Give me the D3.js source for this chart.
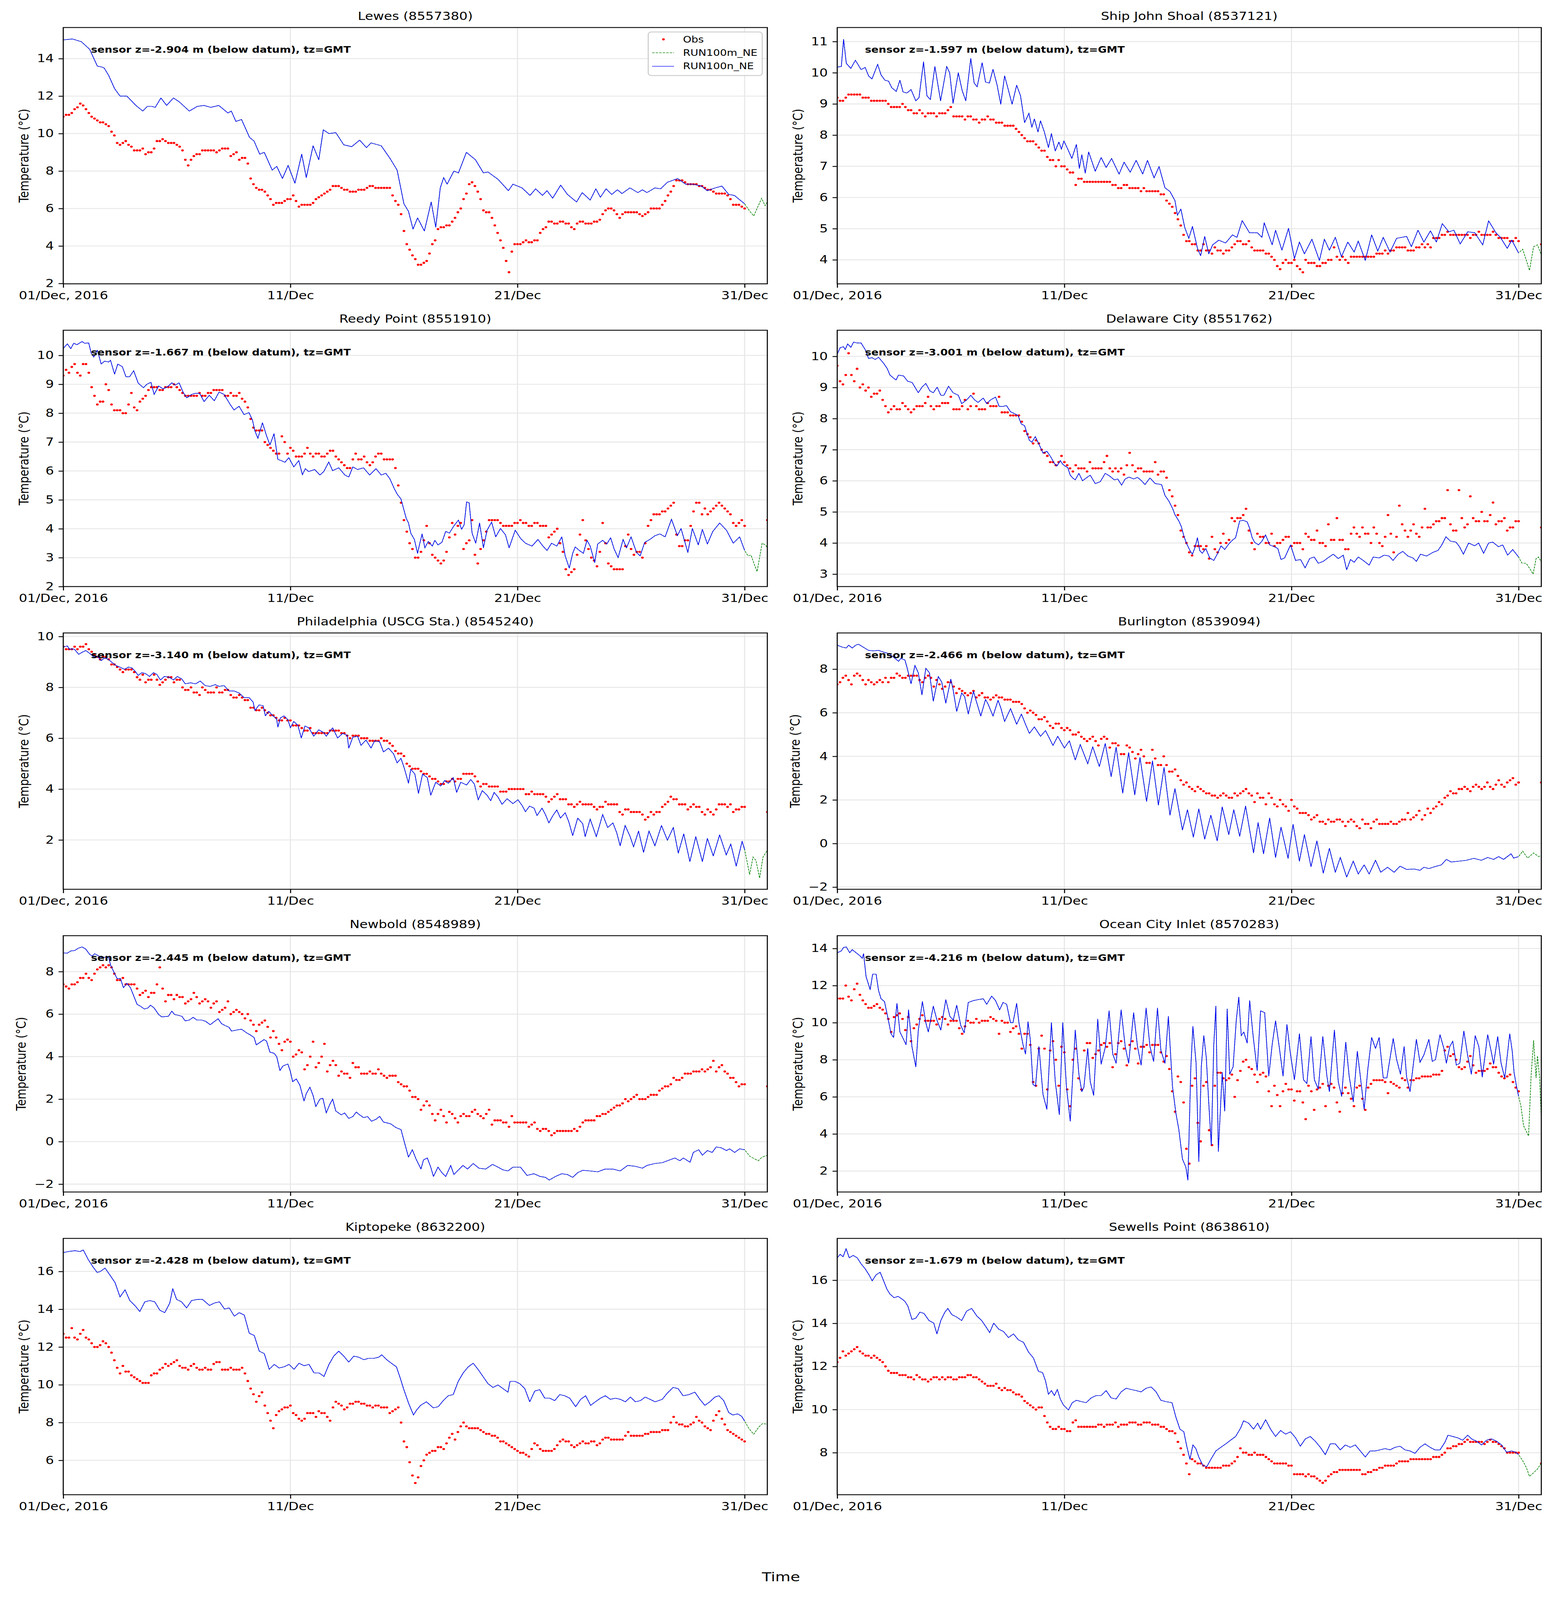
<!DOCTYPE html>
<html>
<head>
<meta charset="utf-8">
<script src="https://cdn.jsdelivr.net/npm/d3@7"></script>
<style>
  html, body { margin: 0; padding: 0; height: 100%; overflow: hidden; background: #fff; }
  #chart { display: block; width: 100vw; height: 100vh; }
  text { font-family: "DejaVu Sans", sans-serif; }
</style>
</head>
<body>
<svg id="chart" viewBox="0 0 4000 5000" preserveAspectRatio="none"></svg>
<script>
// Station titles and sensor depths
const stationNames = ['Lewes (8557380)', 'Ship John Shoal (8537121)', 'Reedy Point (8551910)', 'Delaware City (8551762)',
  'Philadelphia (USCG Sta.) (8545240)', 'Burlington (8539094)', 'Newbold (8548989)', 'Ocean City Inlet (8570283)',
  'Kiptopeke (8632200)', 'Sewells Point (8638610)'];
const sensorDepths = ['-2.904', '-1.597', '-1.667', '-3.001', '-3.140', '-2.466', '-2.445', '-4.216', '-2.428', '-1.679'];

// x ticks (days after 01/Dec 2016) and their labels
const tickDays = [0, 10, 20, 30];
const tickLabels = ['01/Dec, 2016', '11/Dec', '21/Dec', '31/Dec'];

// Observations: one value every 3 hours from 01/Dec 00:00 to 31/Dec 00:00
const obsLewes = [
  10.9,11.0,11.0,11.1,11.3,11.4,11.6,11.5, 11.3,11.1,10.9,10.8,10.7,10.6,10.6,10.5,
  10.4,10.1,9.9,9.5,9.4,9.5,9.6,9.4, 9.3,9.1,9.1,9.1,9.2,8.9,9.0,9.0,
  9.2,9.6,9.6,9.7,9.6,9.5,9.5,9.5, 9.4,9.3,9.1,8.6,8.3,8.6,8.8,8.9,
  8.9,9.1,9.1,9.1,9.1,9.1,9.0,9.1, 9.2,9.2,9.2,8.8,8.9,9.0,8.6,8.7,
  8.7,8.4,7.6,7.3,7.1,7.0,7.0,6.9, 6.7,6.5,6.2,6.3,6.3,6.3,6.4,6.5,
  6.5,6.7,6.4,6.1,6.2,6.2,6.2,6.2, 6.3,6.5,6.6,6.7,6.8,6.9,7.0,7.2,
  7.2,7.2,7.1,7.0,7.0,6.9,6.9,6.9, 7.0,7.0,7.0,7.1,7.2,7.2,7.1,7.1,
  7.1,7.1,7.1,7.1,6.7,6.4,6.2,5.7, 4.8,4.1,3.8,3.5,3.3,3.0,3.0,3.1,
  3.2,3.6,4.1,4.3,4.9,5.0,5.0,5.1, 5.1,5.3,5.5,5.8,6.0,6.5,6.8,7.3,
  7.4,7.2,6.9,6.5,5.9,5.8,5.8,5.5, 5.1,4.7,4.3,3.9,3.2,2.6,3.7,4.1,
  4.1,4.1,4.2,4.3,4.2,4.2,4.3,4.3, 4.7,4.9,5.0,5.3,5.3,5.2,5.2,5.3,
  5.3,5.2,5.2,5.0,4.9,5.2,5.3,5.3, 5.2,5.2,5.2,5.3,5.3,5.4,5.7,5.9,
  6.0,6.0,5.9,5.7,5.5,5.7,5.8,5.8, 5.8,5.8,5.8,5.7,5.6,5.7,5.8,6.0,
  6.0,6.0,6.0,6.2,6.4,6.7,6.9,7.2, 7.5,7.5,7.5,7.4,7.3,7.3,7.3,7.3,
  7.2,7.2,7.1,7.0,7.0,6.9,6.8,6.8, 6.8,6.8,6.7,6.5,6.2,6.2,6.2,6.1,
  6.0];
const obsShipJohn = [
  9.2,9.1,9.1,9.2,9.3,9.3,9.3,9.3, 9.3,9.2,9.2,9.2,9.1,9.1,9.1,9.1,
  9.1,9.1,9.0,8.9,8.9,8.9,8.9,9.0, 8.9,8.8,8.8,8.7,8.7,8.8,8.7,8.6,
  8.7,8.7,8.7,8.6,8.7,8.7,8.7,8.8, 8.9,8.6,8.6,8.6,8.6,8.5,8.6,8.6,
  8.5,8.5,8.4,8.5,8.5,8.6,8.5,8.5, 8.4,8.4,8.4,8.3,8.3,8.3,8.3,8.2,
  8.1,8.0,7.9,7.8,7.8,7.8,7.7,7.6, 7.5,7.5,7.3,7.2,7.2,7.0,7.2,7.0,
  7.0,6.9,6.8,6.8,6.4,6.6,6.6,6.5, 6.5,6.5,6.5,6.5,6.5,6.5,6.5,6.5,
  6.5,6.4,6.4,6.3,6.3,6.4,6.4,6.3, 6.3,6.3,6.3,6.2,6.3,6.2,6.2,6.2,
  6.2,6.2,6.1,6.1,5.9,5.8,5.7,5.5, 5.3,5.1,4.8,4.6,4.6,4.5,4.5,4.3,
  4.3,4.5,4.3,4.3,4.2,4.4,4.3,4.3, 4.2,4.3,4.3,4.4,4.5,4.6,4.6,4.5,
  4.5,4.6,4.4,4.3,4.3,4.3,4.3,4.2, 4.2,4.1,4.0,3.8,3.7,3.9,4.0,3.9,
  3.9,4.0,3.8,3.7,3.6,4.0,3.9,3.9, 3.9,3.8,3.8,3.9,3.9,4.0,4.0,4.4,
  4.1,4.0,4.1,4.0,3.9,4.1,4.1,4.1, 4.1,4.1,4.1,4.1,4.1,4.1,4.2,4.2,
  4.2,4.3,4.2,4.3,4.3,4.4,4.4,4.4, 4.4,4.3,4.3,4.3,4.4,4.4,4.5,4.4,
  4.5,4.4,4.7,4.7,4.7,4.8,4.8,4.9, 4.8,4.8,4.8,4.8,4.8,4.8,4.8,4.7,
  4.8,4.8,4.9,4.8,4.8,4.8,4.8,4.9, 4.8,4.7,4.7,4.7,4.7,4.6,4.6,4.7,
  4.6];
const obsReedy = [
  9.3,9.5,9.4,9.6,9.7,9.4,9.3,9.7, 9.7,9.4,8.9,8.6,8.3,8.4,8.4,9.0,
  8.8,8.3,8.1,8.1,8.1,8.0,8.0,8.3, 8.7,8.2,8.1,8.4,8.5,8.6,8.8,8.9,
  8.9,8.9,8.8,8.8,8.9,8.9,8.9,9.0, 8.9,8.8,8.7,8.6,8.6,8.6,8.6,8.6,
  8.7,8.6,8.6,8.7,8.7,8.8,8.8,8.8, 8.8,8.6,8.6,8.7,8.6,8.6,8.7,8.5,
  8.4,8.2,7.8,7.5,7.4,7.4,7.4,7.0, 6.9,6.8,6.7,6.6,6.6,7.2,7.0,6.6,
  6.8,6.7,6.5,6.5,6.5,6.6,6.8,6.6, 6.5,6.6,6.6,6.5,6.5,6.6,6.7,6.7,
  6.5,6.4,6.3,6.2,6.1,6.1,6.4,6.6, 6.4,6.4,6.5,6.3,6.2,6.3,6.5,6.6,
  6.6,6.4,6.4,6.4,6.4,6.1,5.5,4.9, 4.3,3.9,3.5,3.3,3.0,3.0,3.2,3.6,
  4.1,3.5,3.1,3.0,2.9,2.8,2.9,3.2, 3.7,4.2,3.8,4.1,4.2,3.3,3.5,3.6,
  4.3,3.1,2.8,3.3,3.6,3.9,4.3,4.3, 4.3,4.3,4.2,4.1,4.1,4.1,4.1,4.2,
  4.2,4.3,4.2,4.2,4.1,4.1,4.2,4.2, 4.1,4.1,4.1,3.7,3.8,3.9,4.0,3.5,
  3.2,2.6,2.4,2.5,2.6,3.1,3.8,4.3, 3.6,3.3,3.0,2.9,2.7,3.2,4.2,3.5,
  2.8,2.7,2.6,2.6,2.6,2.6,3.4,3.8, 3.3,3.1,3.2,3.2,3.0,3.5,4.1,4.3,
  4.5,4.5,4.5,4.6,4.6,4.7,4.8,4.9, 3.8,3.4,3.4,3.6,3.6,4.1,4.6,4.9,
  4.9,4.5,4.7,4.5,4.6,4.7,4.8,4.9, 4.8,4.7,4.6,4.5,4.2,4.1,4.2,4.3,
  4.1];
const obsDelaware = [
  9.7,9.2,9.1,9.4,10.1,9.4,9.2,9.6, 9.0,9.1,8.9,9.0,8.7,8.8,8.8,8.9,
  8.6,8.4,8.2,8.3,8.4,8.3,8.3,8.5, 8.4,8.3,8.2,8.3,8.4,8.4,8.4,8.5,
  8.7,8.4,8.3,8.4,8.4,8.5,8.5,8.5, 8.7,8.3,8.3,8.3,8.4,8.6,8.3,8.4,
  8.8,8.4,8.3,8.3,8.3,8.5,8.4,8.4, 8.4,8.7,8.2,8.2,8.2,8.1,8.1,8.1,
  8.1,7.9,7.6,7.5,7.4,7.2,7.3,7.2, 7.0,6.9,6.8,6.6,6.6,6.5,6.6,6.8,
  6.6,6.5,6.4,6.3,6.5,6.4,6.4,6.4, 6.3,6.6,6.4,6.4,6.4,6.4,6.6,6.8,
  6.4,6.3,6.4,6.3,6.4,6.2,6.5,6.9, 6.5,6.3,6.4,6.4,6.3,6.3,6.3,6.3,
  6.6,6.2,6.3,6.3,6.1,5.7,5.5,5.2, 4.9,4.4,4.2,4.0,3.7,3.6,3.9,3.9,
  3.9,3.8,3.9,3.5,4.2,3.8,3.7,4.0, 4.3,4.0,4.1,4.8,4.7,4.8,4.8,4.9,
  5.1,4.4,4.0,3.8,4.3,4.2,4.2,4.0, 4.0,4.3,3.9,4.0,4.0,4.1,4.2,4.2,
  3.9,4.0,4.0,4.0,3.8,4.3,4.2,4.1, 4.1,4.4,4.0,4.0,3.9,4.6,4.1,4.1,
  4.8,4.1,4.1,3.8,3.8,4.3,4.5,4.3, 4.2,4.5,4.3,4.3,4.0,4.5,4.3,4.0,
  3.9,4.2,4.9,4.3,3.7,4.2,5.2,4.6, 4.4,4.2,4.4,4.6,4.3,4.2,4.5,5.1,
  4.5,4.5,4.6,4.7,4.7,4.8,4.8,5.7, 4.6,4.4,4.4,5.7,4.8,4.5,4.6,5.5,
  4.8,4.7,4.7,5.0,4.7,4.7,4.9,5.3, 4.6,4.7,4.7,4.8,4.4,4.5,4.5,4.7,
  4.7];
const obsPhiladelphia = [
  9.6,9.5,9.5,9.5,9.6,9.5,9.6,9.6, 9.7,9.5,9.4,9.3,9.2,9.1,9.2,9.2,
  9.1,8.9,8.9,8.8,8.7,8.6,8.7,8.7, 8.7,8.6,8.4,8.3,8.5,8.2,8.3,8.3,
  8.5,8.3,8.1,8.2,8.3,8.4,8.4,8.2, 8.3,8.3,8.0,7.9,7.9,8.0,7.8,7.8,
  7.7,8.0,7.9,7.8,7.8,7.8,8.0,7.8, 7.8,7.9,7.9,7.7,7.6,7.6,7.7,7.6,
  7.5,7.5,7.2,7.2,7.1,7.1,7.2,7.1, 7.0,6.9,6.9,6.8,6.7,6.7,6.8,6.7,
  6.7,6.5,6.5,6.5,6.4,6.3,6.3,6.4, 6.2,6.2,6.2,6.2,6.2,6.2,6.3,6.3,
  6.3,6.3,6.2,6.2,6.1,6.0,6.1,6.1, 6.1,6.0,6.0,6.0,5.9,5.9,5.9,5.9,
  6.0,5.9,5.9,5.8,5.7,5.5,5.4,5.4, 5.3,5.0,4.9,4.8,4.8,4.8,4.7,4.6,
  4.6,4.5,4.4,4.4,4.3,4.2,4.2,4.3, 4.3,4.4,4.3,4.4,4.4,4.6,4.6,4.6,
  4.6,4.5,4.3,4.1,4.2,4.2,4.1,4.1, 4.1,4.1,3.9,3.9,3.9,4.0,4.0,4.0,
  4.0,4.0,4.0,3.8,3.8,3.9,3.8,3.8, 3.8,3.8,3.7,3.5,3.6,3.7,3.8,3.6,
  3.6,3.6,3.4,3.4,3.3,3.4,3.5,3.4, 3.4,3.4,3.4,3.3,3.2,3.3,3.3,3.5,
  3.4,3.4,3.4,3.4,3.1,3.0,3.2,3.2, 3.1,3.1,3.1,3.1,3.0,2.8,2.9,3.1,
  3.0,3.1,3.1,3.3,3.4,3.5,3.7,3.6, 3.6,3.4,3.4,3.4,3.2,3.3,3.4,3.3,
  3.3,3.1,3.0,3.2,3.1,3.0,3.2,3.4, 3.4,3.4,3.3,3.4,3.1,3.2,3.2,3.3,
  3.3];
const obsBurlington = [
  7.3,7.4,7.6,7.7,7.5,7.3,7.7,7.8, 7.7,7.5,7.3,7.5,7.4,7.3,7.4,7.5,
  7.4,7.6,7.4,7.6,7.6,7.8,7.7,7.6, 7.6,7.7,7.7,7.7,7.7,7.5,7.4,7.6,
  7.7,7.6,7.2,7.5,7.3,7.1,7.2,7.4, 7.4,7.2,6.9,7.1,7.0,6.9,6.8,6.9,
  7.0,6.7,6.8,6.9,6.7,6.7,6.6,6.7, 6.8,6.7,6.7,6.6,6.6,6.6,6.5,6.5,
  6.5,6.4,6.2,6.0,6.1,6.0,5.9,5.7, 5.7,5.8,5.6,5.4,5.3,5.5,5.5,5.3,
  5.2,5.3,5.2,5.0,5.0,5.1,4.9,4.8, 4.7,4.8,4.9,4.7,4.5,4.8,4.9,4.8,
  4.4,4.6,4.6,4.5,4.1,4.1,4.5,4.4, 4.2,3.9,4.1,4.3,4.0,3.7,3.7,4.3,
  3.9,3.6,3.6,4.0,3.6,3.3,3.3,3.4, 3.1,2.9,2.7,2.8,2.6,2.5,2.4,2.6,
  2.5,2.4,2.3,2.3,2.2,2.2,2.1,2.2, 2.3,2.2,2.1,2.1,2.3,2.2,2.3,2.4,
  2.5,2.3,2.2,1.9,2.3,2.1,2.1,1.8, 2.3,2.1,1.8,1.7,2.0,1.8,1.7,1.5,
  2.0,1.7,1.6,1.4,1.4,1.4,1.3,1.1, 1.2,1.3,1.0,1.0,0.9,1.1,1.0,1.0,
  1.1,1.1,1.0,0.8,1.0,1.1,1.0,0.8, 0.7,1.1,0.9,0.9,0.7,1.0,1.1,0.9,
  0.9,0.9,0.9,1.0,0.9,0.9,1.0,1.1, 1.1,1.4,1.1,1.2,1.3,1.5,1.1,1.3,
  1.6,1.4,1.6,1.7,1.9,1.8,2.1,2.2, 2.4,2.3,2.3,2.5,2.5,2.6,2.5,2.4,
  2.6,2.7,2.6,2.5,2.6,2.8,2.6,2.5, 2.7,2.9,2.7,2.6,2.8,2.9,3.0,2.7,
  2.8];
const obsNewbold = [
  7.4,7.3,7.2,7.4,7.4,7.5,7.7,7.7, 7.9,7.7,7.6,7.9,8.1,8.2,8.3,8.2,
  8.3,8.2,7.9,7.6,7.6,7.7,7.4,7.4, 7.4,7.4,7.2,6.9,7.0,7.1,6.8,7.0,
  7.0,7.4,8.2,7.2,6.6,6.9,6.9,6.7, 6.9,6.8,6.8,6.5,6.6,6.7,7.0,6.8,
  6.5,6.6,6.7,6.6,6.3,6.5,6.6,6.1, 6.2,6.3,6.6,6.0,6.1,6.2,6.1,6.0,
  5.8,6.0,5.7,5.5,5.2,5.5,5.6,5.7, 5.4,4.9,5.2,4.9,4.6,4.3,4.7,4.8,
  4.7,4.0,4.1,4.3,4.2,3.4,3.6,4.0, 4.7,3.5,3.7,4.0,4.6,3.3,3.6,3.8,
  3.6,3.1,3.3,3.2,3.2,3.0,3.7,3.5, 3.5,3.2,3.2,3.2,3.3,3.2,3.2,3.4,
  3.2,3.1,3.0,3.1,3.1,3.1,2.8,2.7, 2.6,2.6,2.4,2.1,2.1,2.0,1.5,1.7,
  1.9,1.7,1.3,1.0,1.3,1.5,1.2,0.9, 1.4,1.3,1.1,0.9,1.2,1.3,1.2,1.2,
  1.4,1.5,1.3,1.2,1.1,1.3,1.5,0.8, 1.0,1.0,1.0,0.9,0.9,0.7,1.2,0.9,
  0.9,0.9,0.9,0.9,0.7,0.8,0.9,0.6, 0.5,0.6,0.6,0.5,0.3,0.4,0.5,0.5,
  0.5,0.5,0.5,0.5,0.6,0.5,0.7,0.9, 1.0,1.0,1.0,1.0,1.2,1.2,1.3,1.3,
  1.4,1.5,1.6,1.7,1.7,1.8,2.0,1.9, 2.0,2.1,2.2,2.0,2.0,2.0,2.1,2.2,
  2.2,2.2,2.4,2.5,2.6,2.6,2.7,3.0, 2.9,2.9,3.0,3.2,3.2,3.2,3.3,3.3,
  3.3,3.4,3.3,3.4,3.5,3.8,3.3,3.5, 3.6,3.3,3.2,3.0,3.0,2.8,2.6,2.7,
  2.7];
const obsOceanCity = [
  11.3,11.3,11.3,12.0,11.4,11.2,11.8,12.1, 11.5,11.2,11.0,10.8,10.8,10.9,11.0,10.8,
  10.7,10.5,10.2,9.5,10.3,10.4,10.5,10.2, 9.6,10.3,9.0,9.7,9.9,10.2,10.4,10.1,
  10.1,10.1,10.1,9.9,10.2,10.3,10.2,9.9, 10.1,10.1,10.1,9.7,9.4,9.8,10.1,10.0,
  10.0,10.2,10.0,10.1,10.1,10.1,10.3,10.2, 10.1,9.4,10.1,10.0,10.0,9.5,9.7,9.8,
  9.4,8.6,9.4,9.4,8.8,6.8,6.6,8.6, 9.3,8.6,6.4,8.5,9.0,8.0,6.6,8.7,
  8.4,6.4,5.5,8.0,8.6,7.0,6.4,8.5, 8.9,8.9,8.1,8.3,8.5,8.8,8.9,8.7,
  8.9,7.6,8.3,8.9,9.0,8.6,7.7,8.8, 9.0,8.6,7.8,8.7,8.7,8.8,8.4,8.8,
  8.8,8.8,8.4,7.9,8.2,7.5,6.3,5.2, 7.1,6.8,5.7,3.2,2.4,6.6,7.0,4.6,
  3.6,6.6,6.8,4.2,3.4,6.6,7.3,7.3, 7.0,6.9,7.0,7.2,6.0,6.9,7.4,7.9,
  8.0,7.6,7.5,7.2,6.8,7.2,7.3,7.1, 6.3,5.5,6.6,6.1,5.5,6.3,6.7,6.4,
  6.4,5.8,6.3,6.3,5.7,4.8,6.6,6.3, 5.3,6.4,6.5,6.7,5.5,6.6,6.7,6.5,
  5.7,5.2,6.2,6.5,6.2,5.9,5.5,6.5, 6.6,5.9,5.3,6.5,6.7,6.9,6.9,6.9,
  6.9,6.8,6.2,6.8,6.7,6.6,6.5,7.0, 6.9,6.5,6.9,6.9,7.0,7.0,7.1,7.1,
  7.1,7.1,7.2,7.2,7.2,7.4,8.5,8.7, 8.2,8.3,8.0,7.6,7.5,7.6,7.9,8.2,
  7.7,7.3,7.4,7.4,7.4,7.5,7.8,7.6, 7.6,7.3,7.1,7.0,7.1,7.2,6.8,6.5,
  6.3];
const obsKiptopeke = [
  12.7,12.5,12.5,13.0,12.5,12.4,12.7,12.9, 12.5,12.4,12.2,12.0,12.0,12.1,12.3,12.2,
  12.0,11.7,11.3,10.9,10.6,11.0,10.7,10.7, 10.5,10.4,10.3,10.2,10.1,10.1,10.1,10.5,
  10.6,10.6,10.8,10.9,11.1,11.0,11.1,11.2, 11.3,11.0,10.9,10.9,10.8,11.0,11.1,10.9,
  10.8,10.8,10.9,10.8,10.8,11.1,11.2,11.2, 10.8,10.8,10.8,10.9,10.8,10.8,10.8,10.9,
  10.6,10.2,9.8,9.5,9.1,9.4,9.6,8.9, 8.5,8.1,7.7,8.4,8.6,8.7,8.8,8.8,
  8.9,8.5,8.4,8.2,8.1,8.2,8.5,8.5, 8.5,8.3,8.6,8.5,8.5,8.3,8.1,8.8,
  9.1,9.0,8.9,8.7,8.8,9.0,9.0,9.1, 9.1,9.0,9.0,8.9,8.9,8.8,8.9,8.9,
  8.8,8.8,8.8,8.5,8.6,8.7,8.8,8.0, 7.0,6.7,5.9,5.2,4.8,5.1,5.7,6.0,
  6.3,6.4,6.5,6.5,6.7,6.7,6.6,6.9, 7.2,7.4,7.1,7.5,7.8,8.0,7.8,7.7,
  7.7,7.7,7.7,7.6,7.5,7.4,7.4,7.3, 7.3,7.2,7.0,7.0,6.9,6.8,6.7,6.6,
  6.5,6.4,6.4,6.3,6.2,6.6,6.9,6.8, 6.6,6.5,6.5,6.5,6.5,6.6,6.8,7.0,
  7.1,7.0,7.0,6.8,6.7,6.8,6.9,7.0, 6.9,6.9,7.0,7.0,6.8,6.9,7.1,7.2,
  7.2,7.1,7.1,7.1,7.1,7.1,7.3,7.5, 7.3,7.3,7.3,7.3,7.3,7.4,7.4,7.5,
  7.5,7.5,7.5,7.6,7.6,7.6,8.0,8.3, 8.0,7.9,7.9,7.8,7.8,7.9,8.0,8.3,
  8.1,8.0,7.8,7.7,7.6,8.1,8.4,8.6, 8.2,7.9,7.6,7.5,7.4,7.3,7.2,7.1,
  7.0];
const obsSewells = [
  12.2,12.4,12.7,12.5,12.6,12.7,12.8,12.9, 12.7,12.6,12.5,12.5,12.4,12.5,12.4,12.3,
  12.2,12.0,11.8,11.7,11.7,11.7,11.6,11.6, 11.6,11.5,11.5,11.4,11.6,11.5,11.4,11.4,
  11.3,11.4,11.5,11.5,11.4,11.5,11.4,11.5, 11.5,11.4,11.4,11.5,11.5,11.5,11.6,11.6,
  11.5,11.5,11.4,11.3,11.2,11.1,11.1,11.1, 11.2,11.0,10.9,11.0,10.9,10.9,10.8,10.7,
  10.7,10.6,10.4,10.3,10.2,10.1,10.0,10.1, 10.1,9.7,9.4,9.2,9.1,9.1,9.2,9.1,
  9.1,9.0,9.0,9.4,9.5,9.2,9.2,9.2, 9.2,9.2,9.2,9.2,9.3,9.3,9.2,9.3,
  9.3,9.3,9.4,9.2,9.3,9.3,9.3,9.4, 9.4,9.4,9.3,9.3,9.4,9.4,9.4,9.3,
  9.3,9.3,9.2,9.2,9.1,9.0,9.0,8.9, 8.5,8.2,7.9,7.5,7.0,7.7,7.6,7.5,
  7.5,7.4,7.3,7.3,7.3,7.3,7.3,7.3, 7.4,7.4,7.4,7.5,7.6,7.8,8.2,8.0,
  8.0,7.9,7.9,8.0,7.9,7.9,7.9,7.8, 7.7,7.6,7.5,7.5,7.5,7.5,7.5,7.4,
  7.4,7.0,7.0,7.0,7.0,6.9,7.0,6.9, 6.9,6.8,6.7,6.6,6.7,6.9,7.0,7.1,
  7.1,7.2,7.2,7.2,7.2,7.2,7.2,7.2, 7.2,7.0,7.0,7.1,7.1,7.2,7.2,7.3,
  7.3,7.4,7.4,7.4,7.4,7.5,7.6,7.6, 7.6,7.6,7.7,7.7,7.7,7.7,7.7,7.7,
  7.7,7.7,7.8,7.8,7.8,7.9,8.0,8.2, 8.2,8.3,8.3,8.4,8.4,8.5,8.6,8.5,
  8.5,8.5,8.5,8.5,8.4,8.5,8.6,8.5, 8.5,8.4,8.3,8.2,8.0,8.0,8.0,8.0,
  8.0];
// single observation at 01/Jan 00:00 (null = none)
const obsJan1 = [null, 4.5, 4.3, 4.5, 3.1, 2.8, 2.6, null, null, 7.5];

// Model RUN100n_NE: [day, value] knots to 31/Dec 00:00
const modelLewes = [[0,15.0],[0.4,15.05],[0.8,14.9],[1.16,14.5],[1.5,13.6],[1.7,13.55],[1.8,13.5],[2.0,13.1],[2.26,12.4],[2.5,12.0],[2.8,12.0],[3.0,11.75],[3.2,11.5],[3.5,11.2],[3.7,11.45],[3.9,11.45],[4.05,11.4],[4.3,11.9],[4.55,11.5],[4.85,11.9],[5.1,11.7],[5.55,11.2],[5.9,11.45],[6.2,11.5],[6.5,11.4],[6.85,11.5],[7.25,11.1],[7.4,11.2],[7.6,10.65],[7.85,10.75],[8.2,9.8],[8.4,9.6],[8.65,8.9],[8.85,9.0],[9.2,8.05],[9.4,8.25],[9.65,7.6],[9.9,8.3],[10.2,7.35],[10.5,8.9],[10.7,7.65],[11.0,9.35],[11.25,8.6],[11.45,10.2],[11.7,10.0],[12.0,10.05],[12.35,9.4],[12.7,9.3],[13.05,9.65],[13.35,9.25],[13.55,9.5],[14.0,9.35],[14.4,8.65],[14.7,8.05],[15.0,6.25],[15.2,5.85],[15.4,4.9],[15.6,5.5],[15.9,4.8],[16.2,6.35],[16.4,5.0],[16.6,7.1],[16.75,7.65],[16.9,7.3],[17.2,8.0],[17.4,7.9],[17.75,9.0],[18.15,8.6],[18.5,7.9],[18.7,7.95],[19.15,7.55],[19.6,6.95],[19.8,7.3],[20.2,7.1],[20.55,6.7],[20.8,7.05],[21.1,6.7],[21.3,6.95],[21.55,6.55],[21.9,7.25],[22.2,6.75],[22.6,6.35],[22.85,6.85],[23.2,6.45],[23.45,7.05],[23.65,6.6],[23.9,7.05],[24.15,6.75],[24.4,7.0],[24.6,6.8],[24.95,7.1],[25.3,6.85],[25.5,7.0],[25.7,6.85],[26.05,7.1],[26.3,7.05],[26.6,7.4],[27.05,7.6],[27.4,7.3],[27.7,7.3],[28.1,7.2],[28.35,6.95],[28.7,7.1],[29.0,7.2],[29.3,6.75],[29.55,6.7],[30.0,6.25]];
const modelShipJohn = [[0,10.18],[0.18,10.2],[0.28,11.07],[0.4,10.3],[0.6,10.14],[0.8,10.4],[1.05,10.1],[1.23,10.17],[1.38,9.9],[1.53,9.8],[1.78,10.27],[1.93,9.93],[2.1,9.76],[2.26,9.73],[2.4,9.52],[2.6,9.4],[2.76,9.76],[2.9,9.38],[3.07,9.35],[3.25,9.46],[3.46,9.1],[3.6,9.2],[3.8,10.35],[3.95,9.26],[4.1,9.14],[4.3,10.2],[4.55,9.1],[4.82,10.2],[4.95,10.0],[5.1,9.02],[5.33,10.0],[5.5,9.43],[5.66,9.1],[5.88,10.46],[6.03,9.67],[6.16,9.55],[6.38,10.32],[6.53,9.7],[6.7,9.67],[6.86,10.11],[7.04,9.6],[7.2,8.99],[7.37,9.9],[7.52,9.49],[7.7,8.99],[7.9,9.6],[8.07,9.26],[8.25,8.4],[8.44,8.7],[8.57,8.25],[8.68,8.52],[8.84,8.1],[8.95,8.46],[9.12,8.1],[9.3,7.6],[9.43,8.05],[9.6,7.49],[9.76,7.78],[9.87,7.55],[9.98,7.81],[10.15,7.55],[10.33,7.25],[10.53,7.7],[10.66,6.93],[10.77,7.37],[10.92,6.78],[11.07,7.46],[11.36,6.84],[11.62,7.28],[11.84,6.96],[12.08,7.25],[12.41,6.75],[12.63,7.13],[12.9,6.81],[13.16,7.19],[13.45,6.75],[13.66,7.19],[13.95,6.63],[14.17,6.99],[14.43,6.31],[14.65,6.19],[14.87,5.9],[14.98,5.43],[15.13,5.63],[15.3,5.04],[15.48,4.69],[15.64,5.07],[15.86,4.37],[16.0,4.13],[16.18,4.75],[16.36,4.19],[16.53,4.48],[16.8,4.63],[17.1,4.54],[17.4,4.8],[17.6,4.72],[17.83,5.26],[18.15,4.87],[18.5,4.87],[18.7,4.72],[18.8,5.19],[19.15,4.48],[19.3,4.95],[19.58,4.31],[19.87,5.01],[20.13,4.04],[20.35,4.57],[20.57,4.19],[20.9,4.66],[21.23,3.98],[21.45,4.66],[21.67,4.31],[21.93,4.72],[22.2,4.1],[22.48,4.57],[22.76,4.25],[22.94,4.6],[23.25,3.98],[23.53,4.8],[23.8,4.28],[24.04,4.72],[24.34,4.25],[24.63,4.69],[25.07,4.75],[25.28,4.42],[25.57,4.95],[25.83,4.57],[26.12,4.93],[26.38,4.57],[26.64,5.16],[26.93,4.9],[27.15,4.95],[27.43,4.51],[27.76,4.9],[28.07,4.87],[28.42,4.48],[28.68,5.25],[29.0,4.87],[29.2,4.72],[29.5,4.37],[29.7,4.63],[30.0,4.22]];
const modelReedy = [[0,10.24],[0.18,10.4],[0.33,10.23],[0.46,10.42],[0.6,10.37],[0.83,10.48],[0.94,10.42],[1.12,10.43],[1.23,10.08],[1.34,9.94],[1.5,10.18],[1.67,9.7],[1.82,9.8],[2.0,9.77],[2.08,9.83],[2.26,9.35],[2.4,9.7],[2.6,9.61],[2.76,9.26],[2.92,9.26],[3.1,9.47],[3.3,9.04],[3.53,8.88],[3.68,9.0],[3.86,9.07],[4.0,8.65],[4.2,8.94],[4.4,8.84],[4.63,8.94],[4.78,9.05],[4.93,8.97],[5.1,9.05],[5.28,8.72],[5.44,8.53],[5.66,8.65],[5.83,8.69],[6.0,8.69],[6.2,8.4],[6.43,8.62],[6.65,8.43],[6.86,8.73],[7.08,8.65],[7.35,8.3],[7.52,8.11],[7.74,8.24],[7.96,7.95],[8.18,8.02],[8.33,7.76],[8.44,7.38],[8.57,7.13],[8.77,7.67],[8.95,7.22],[9.1,6.9],[9.28,7.29],[9.45,6.4],[9.6,6.36],[9.76,6.3],[9.93,6.46],[10.15,6.14],[10.37,6.36],[10.53,5.87],[10.66,6.08],[10.8,5.98],[11.07,6.05],[11.3,5.86],[11.47,5.98],[11.69,6.31],[11.86,6.01],[12.13,6.11],[12.4,5.86],[12.57,5.79],[12.75,6.14],[12.96,6.05],[13.22,6.11],[13.49,5.86],[13.77,6.08],[14.0,5.86],[14.2,5.92],[14.38,5.73],[14.58,5.38],[14.71,5.19],[14.87,5.03],[15.0,4.65],[15.1,4.36],[15.2,4.2],[15.3,3.85],[15.46,3.63],[15.6,3.15],[15.7,3.5],[15.8,3.82],[15.92,3.34],[16.07,3.56],[16.25,3.4],[16.36,3.6],[16.5,3.44],[16.67,3.53],[16.84,3.91],[17.0,3.85],[17.2,4.1],[17.4,4.3],[17.54,3.98],[17.65,4.14],[17.76,4.93],[17.87,4.9],[18.0,3.85],[18.16,3.5],[18.33,4.2],[18.5,3.34],[18.66,3.95],[18.86,4.23],[19.04,3.72],[19.25,4.01],[19.47,3.79],[19.63,3.34],[19.9,3.95],[20.14,3.66],[20.35,3.5],[20.64,3.4],[20.9,3.63],[21.12,3.4],[21.3,3.25],[21.5,3.5],[21.73,3.4],[21.95,3.72],[22.1,3.06],[22.28,2.64],[22.43,3.15],[22.54,3.37],[22.72,3.25],[22.9,3.15],[23.06,3.6],[23.2,3.4],[23.4,2.83],[23.53,3.47],[23.75,3.6],[23.93,3.47],[24.1,3.69],[24.25,3.31],[24.43,3.0],[24.65,3.63],[24.8,3.34],[25.0,3.72],[25.24,3.18],[25.4,3.06],[25.6,3.53],[25.83,3.63],[26.05,3.76],[26.27,3.82],[26.5,3.72],[26.78,4.33],[27.04,3.76],[27.2,4.01],[27.5,3.18],[27.7,4.01],[27.96,3.44],[28.14,3.98],[28.36,3.47],[28.6,3.91],[28.9,4.2],[29.2,3.95],[29.5,3.5],[29.78,3.72],[30.0,3.25]];
const modelDelaware = [[0,10.07],[0.13,10.28],[0.28,10.31],[0.35,10.22],[0.46,10.4],[0.6,10.29],[0.72,10.46],[0.88,10.43],[1.05,10.43],[1.23,10.22],[1.38,9.93],[1.53,9.96],[1.67,9.9],[1.82,9.97],[2.04,9.78],[2.2,9.61],[2.32,9.4],[2.48,9.3],[2.59,9.24],[2.7,9.4],[2.92,9.37],[3.1,9.2],[3.3,9.16],[3.42,9.01],[3.57,8.83],[3.73,9.01],[3.9,9.13],[4.08,8.89],[4.23,8.83],[4.4,9.01],[4.56,8.75],[4.7,8.75],[4.9,9.04],[5.1,8.83],[5.33,8.75],[5.48,8.48],[5.7,8.6],[5.88,8.75],[6.05,8.6],[6.2,8.52],[6.43,8.66],[6.58,8.48],[6.75,8.6],[6.97,8.69],[7.13,8.39],[7.3,8.39],[7.45,8.42],[7.63,8.22],[7.8,8.16],[7.96,8.1],[8.1,7.83],[8.25,7.77],[8.35,7.54],[8.46,7.3],[8.57,7.24],[8.72,7.42],[8.9,7.15],[9.06,6.89],[9.23,6.95],[9.4,6.77],[9.56,6.56],[9.67,6.47],[9.82,6.65],[9.93,6.53],[10.04,6.47],[10.15,6.42],[10.26,6.18],[10.37,6.09],[10.48,6.03],[10.64,6.24],[10.8,6.0],[10.96,6.09],[11.14,6.18],[11.36,5.91],[11.58,5.97],[11.8,6.24],[12.0,6.15],[12.2,6.03],[12.35,6.06],[12.52,5.86],[12.68,6.06],[12.85,6.12],[13.05,6.06],[13.22,6.11],[13.4,6.0],[13.55,5.88],[13.77,6.09],[14.0,5.91],[14.28,5.88],[14.43,5.53],[14.6,5.35],[14.76,5.12],[14.87,4.91],[15.04,4.71],[15.15,4.53],[15.26,4.23],[15.37,4.0],[15.53,3.76],[15.64,3.64],[15.75,3.85],[15.86,4.17],[15.96,3.76],[16.07,3.67],[16.23,3.82],[16.4,3.52],[16.58,3.44],[16.73,3.64],[16.9,3.91],[17.06,3.79],[17.24,3.97],[17.4,4.09],[17.54,4.17],[17.72,4.71],[17.87,4.73],[18.05,4.68],[18.16,4.47],[18.27,4.17],[18.38,4.02],[18.55,3.94],[18.7,4.06],[18.86,4.26],[19.04,3.94],[19.25,3.88],[19.4,3.82],[19.54,3.47],[19.7,3.52],[19.96,3.94],[20.18,3.44],[20.4,3.47],[20.6,3.2],[20.8,3.5],[21.0,3.55],[21.18,3.35],[21.4,3.41],[21.6,3.52],[21.84,3.64],[22.06,3.5],[22.28,3.61],[22.43,3.14],[22.6,3.47],[22.76,3.38],[22.94,3.55],[23.16,3.44],[23.42,3.29],[23.6,3.55],[23.86,3.52],[24.08,3.61],[24.3,3.58],[24.47,3.44],[24.7,3.64],[24.9,3.73],[25.13,3.58],[25.35,3.52],[25.5,3.41],[25.68,3.64],[25.95,3.58],[26.23,3.7],[26.45,3.76],[26.62,3.94],[26.8,4.2],[27.0,4.06],[27.24,4.03],[27.4,3.88],[27.57,3.64],[27.8,4.0],[28.07,3.91],[28.24,4.0],[28.46,3.67],[28.68,4.0],[28.86,4.03],[29.12,3.88],[29.3,3.94],[29.52,3.61],[29.74,3.79],[30.0,3.55]];
const modelPhiladelphia = [[0,9.59],[0.18,9.63],[0.28,9.49],[0.4,9.52],[0.5,9.49],[0.68,9.3],[0.83,9.38],[0.99,9.45],[1.16,9.34],[1.34,9.2],[1.51,9.22],[1.67,9.05],[1.82,9.16],[2.0,9.09],[2.15,8.98],[2.3,8.87],[2.48,8.8],[2.7,8.71],[2.87,8.8],[3.03,8.76],[3.18,8.62],[3.3,8.47],[3.46,8.58],[3.62,8.54],[3.8,8.43],[3.97,8.58],[4.12,8.51],[4.28,8.29],[4.45,8.43],[4.67,8.4],[4.85,8.29],[5.02,8.43],[5.22,8.33],[5.37,8.14],[5.6,8.18],[5.83,8.14],[6.03,8.25],[6.25,8.07],[6.47,8.04],[6.69,8.11],[6.86,8.04],[7.08,8.07],[7.3,7.86],[7.52,7.86],[7.74,7.78],[7.96,7.6],[8.18,7.6],[8.36,7.42],[8.44,7.09],[8.62,7.31],[8.8,7.28],[8.9,6.88],[9.05,7.06],[9.23,6.88],[9.39,6.77],[9.45,6.44],[9.56,6.8],[9.72,6.88],[9.89,6.73],[10.0,6.41],[10.15,6.66],[10.33,6.51],[10.48,6.01],[10.64,6.48],[10.81,6.41],[11.03,6.08],[11.25,6.33],[11.47,6.22],[11.58,6.08],[11.86,6.41],[12.08,6.01],[12.3,6.19],[12.5,6.12],[12.57,5.61],[12.75,6.04],[12.96,6.08],[13.11,5.72],[13.33,5.93],[13.55,5.61],[13.71,5.9],[13.93,5.86],[14.1,5.46],[14.32,5.61],[14.54,5.39],[14.7,5.03],[14.87,5.21],[15.02,4.81],[15.2,4.23],[15.3,4.78],[15.48,4.59],[15.64,3.83],[15.82,4.59],[16.03,4.45],[16.18,3.76],[16.4,4.27],[16.62,4.12],[16.8,4.34],[16.95,4.23],[17.17,4.45],[17.32,3.87],[17.5,4.27],[17.76,4.16],[17.94,4.38],[18.1,4.2],[18.27,3.58],[18.45,3.94],[18.66,3.76],[18.82,3.54],[18.97,3.87],[19.14,3.69],[19.32,3.4],[19.54,3.62],[19.8,3.43],[20.02,3.58],[20.2,3.36],[20.35,3.11],[20.53,3.33],[20.73,3.25],[20.86,2.96],[21.08,3.25],[21.23,3.0],[21.38,2.67],[21.56,2.96],[21.73,3.18],[21.89,2.86],[22.1,3.07],[22.26,2.71],[22.43,2.17],[22.65,2.86],[22.87,2.64],[22.98,2.13],[23.2,2.82],[23.47,2.13],[23.75,3.0],[23.97,2.49],[24.2,2.67],[24.37,2.28],[24.52,1.77],[24.74,2.57],[24.96,2.13],[25.11,1.73],[25.33,2.35],[25.55,1.51],[25.79,2.35],[26.05,1.77],[26.34,2.57],[26.6,1.99],[26.86,2.49],[27.08,1.48],[27.32,2.24],[27.59,1.15],[27.85,2.13],[28.14,1.15],[28.36,2.06],[28.62,1.37],[28.9,2.2],[29.19,1.41],[29.39,1.84],[29.63,0.97],[29.89,1.95],[30.0,1.62]];
const modelBurlington = [[0,9.1],[0.22,9.01],[0.4,8.97],[0.5,9.1],[0.66,8.97],[0.83,9.11],[0.94,9.14],[1.16,9.0],[1.38,8.86],[1.6,8.84],[1.82,8.86],[2.04,8.78],[2.26,8.72],[2.48,8.55],[2.7,8.36],[2.8,8.49],[2.98,8.42],[3.07,8.09],[3.25,7.33],[3.42,8.17],[3.57,7.83],[3.73,6.82],[3.9,8.04],[4.06,7.83],[4.23,6.53],[4.45,7.66],[4.6,7.41],[4.78,6.44],[5.0,7.54],[5.1,7.07],[5.26,6.06],[5.48,6.91],[5.61,6.74],[5.77,5.94],[6.0,6.99],[6.1,6.61],[6.32,5.85],[6.53,6.61],[6.64,6.4],[6.86,5.85],[7.08,6.57],[7.2,6.23],[7.37,5.6],[7.63,6.19],[7.9,5.47],[8.11,5.94],[8.29,5.47],[8.46,5.05],[8.68,5.35],[8.95,4.92],[9.17,5.18],[9.5,4.5],[9.71,4.92],[10.0,4.38],[10.22,4.71],[10.48,3.83],[10.7,4.54],[11.03,3.66],[11.25,4.44],[11.54,3.53],[11.8,4.59],[12.06,3.07],[12.28,4.42],[12.57,2.31],[12.83,4.17],[13.1,2.23],[13.33,3.95],[13.62,1.93],[13.88,3.79],[14.14,1.76],[14.39,3.49],[14.65,1.3],[14.87,2.52],[15.2,0.62],[15.42,1.55],[15.68,0.29],[15.92,1.59],[16.18,0.2],[16.45,1.3],[16.73,0.12],[16.95,1.68],[17.24,0.41],[17.46,1.55],[17.72,0.33],[17.98,1.72],[18.33,-0.43],[18.53,0.96],[18.77,-0.47],[19.04,1.17],[19.3,-0.64],[19.54,0.75],[19.85,-0.68],[20.07,0.88],[20.35,-0.81],[20.57,0.41],[20.86,-1.06],[21.12,0.12],[21.4,-1.36],[21.67,-0.22],[21.93,-1.32],[22.15,-0.64],[22.43,-1.54],[22.72,-0.81],[22.94,-1.4],[23.2,-0.98],[23.42,-1.4],[23.7,-0.77],[23.93,-1.32],[24.23,-1.09],[24.52,-1.32],[24.78,-1.04],[25.07,-1.19],[25.4,-1.17],[25.66,-1.23],[25.83,-1.09],[26.05,-1.15],[26.32,-1.06],[26.6,-0.98],[26.82,-0.73],[27.04,-0.85],[27.37,-0.81],[27.7,-0.77],[28.03,-0.68],[28.36,-0.77],[28.64,-0.64],[28.9,-0.73],[29.12,-0.6],[29.34,-0.73],[29.67,-0.47],[29.78,-0.67],[30.0,-0.6]];
const modelNewbold = [[0,8.88],[0.18,8.87],[0.33,8.97],[0.5,8.99],[0.66,9.1],[0.83,9.16],[0.99,9.06],[1.16,8.81],[1.27,8.73],[1.38,8.84],[1.54,8.75],[1.67,8.67],[1.82,8.67],[2.0,8.67],[2.08,8.32],[2.21,8.02],[2.37,7.67],[2.52,7.67],[2.65,7.24],[2.8,7.45],[2.96,7.24],[3.09,6.89],[3.25,6.46],[3.4,6.37],[3.57,6.24],[3.73,6.29],[3.84,6.42],[4.0,6.29],[4.2,5.98],[4.34,5.87],[4.63,5.9],[4.78,6.14],[4.9,5.98],[5.07,5.94],[5.22,5.9],[5.37,5.68],[5.55,5.72],[5.72,5.85],[5.88,5.72],[6.1,5.72],[6.27,5.66],[6.47,5.5],[6.64,5.64],[6.82,5.78],[6.97,5.55],[7.13,5.46],[7.3,5.38],[7.41,5.2],[7.63,5.25],[7.85,5.29],[8.07,5.12],[8.22,5.03],[8.4,4.9],[8.5,4.55],[8.62,4.64],[8.84,4.8],[8.95,4.73],[9.1,4.21],[9.28,4.16],[9.4,3.99],[9.54,3.34],[9.67,3.56],[9.89,3.65],[10.0,3.3],[10.1,2.82],[10.26,2.95],[10.42,2.65],[10.6,1.91],[10.7,2.26],[10.86,2.56],[11.0,2.17],[11.12,1.65],[11.3,2.0],[11.43,2.04],[11.58,1.35],[11.73,1.74],[11.86,2.0],[12.0,1.44],[12.24,1.26],[12.39,1.35],[12.57,1.09],[12.75,1.18],[12.9,1.39],[13.05,1.26],[13.22,1.13],[13.4,1.18],[13.57,0.96],[13.77,1.05],[13.93,1.19],[14.1,0.92],[14.3,0.87],[14.43,0.83],[14.65,0.66],[14.87,0.57],[15.0,0.05],[15.1,-0.34],[15.2,-0.73],[15.37,-0.38],[15.53,-0.81],[15.75,-1.29],[15.86,-0.86],[16.03,-0.77],[16.18,-1.2],[16.3,-1.64],[16.5,-1.2],[16.67,-1.46],[16.84,-1.64],[17.06,-1.12],[17.2,-1.55],[17.4,-1.33],[17.6,-1.12],[17.8,-1.29],[18.05,-1.03],[18.3,-1.25],[18.6,-1.29],[18.9,-1.07],[19.14,-1.2],[19.36,-1.33],[19.58,-1.38],[19.8,-1.2],[20.13,-1.2],[20.42,-1.59],[20.72,-1.51],[21.0,-1.64],[21.23,-1.68],[21.4,-1.81],[21.67,-1.64],[21.95,-1.51],[22.2,-1.55],[22.43,-1.68],[22.65,-1.46],[22.87,-1.35],[23.2,-1.38],[23.53,-1.42],[23.86,-1.29],[24.2,-1.29],[24.52,-1.38],[24.85,-1.12],[25.18,-1.16],[25.5,-1.25],[25.7,-1.12],[26.05,-1.03],[26.38,-0.99],[26.7,-0.86],[26.93,-0.77],[27.15,-0.9],[27.3,-0.77],[27.6,-0.97],[27.74,-0.51],[27.98,-0.38],[28.14,-0.64],[28.36,-0.42],[28.57,-0.51],[28.75,-0.25],[28.97,-0.29],[29.2,-0.42],[29.34,-0.34],[29.56,-0.51],[29.78,-0.34],[30.0,-0.38]];
const modelOceanCity = [[0,13.77],[0.18,13.87],[0.28,14.06],[0.4,14.08],[0.55,13.77],[0.66,13.94],[0.83,13.77],[0.99,13.62],[1.1,13.47],[1.16,13.72],[1.27,12.48],[1.45,11.78],[1.56,12.62],[1.71,12.62],[1.82,11.73],[1.93,11.29],[2.08,11.14],[2.21,10.39],[2.37,9.4],[2.48,9.2],[2.63,11.04],[2.76,9.5],[2.92,9.1],[3.03,8.81],[3.14,10.69],[3.29,8.71],[3.46,7.62],[3.57,9.6],[3.75,11.14],[3.9,10.0],[4.01,9.5],[4.23,10.89],[4.39,10.14],[4.56,9.6],[4.78,11.24],[4.96,10.34],[5.11,10.14],[5.26,10.94],[5.44,9.85],[5.59,9.45],[5.77,11.09],[5.99,11.19],[6.2,11.24],[6.43,11.29],[6.58,10.99],[6.8,11.43],[6.97,11.19],[7.15,10.69],[7.3,11.09],[7.46,10.99],[7.63,10.0],[7.74,10.0],[7.9,11.04],[8.0,10.0],[8.18,8.81],[8.29,8.31],[8.4,10.05],[8.5,9.1],[8.62,6.67],[8.73,6.57],[8.88,8.71],[9.06,6.13],[9.23,5.33],[9.43,10.0],[9.6,6.82],[9.78,5.04],[9.93,10.0],[10.09,6.57],[10.26,4.69],[10.48,9.6],[10.64,7.22],[10.77,6.28],[10.86,6.52],[11.03,8.61],[11.14,6.82],[11.29,6.08],[11.47,10.19],[11.62,7.76],[11.8,8.66],[11.97,10.64],[12.13,8.31],[12.28,7.81],[12.5,10.69],[12.68,8.71],[12.83,7.81],[13.05,10.54],[13.22,8.71],[13.38,7.71],[13.6,10.79],[13.77,8.71],[13.93,7.91],[14.1,10.79],[14.25,8.51],[14.43,7.81],[14.58,10.34],[14.76,6.57],[14.91,5.13],[15.04,4.24],[15.2,2.65],[15.35,2.21],[15.44,1.51],[15.57,7.62],[15.66,9.8],[15.8,7.81],[15.92,2.51],[16.03,7.62],[16.14,9.3],[16.25,8.11],[16.36,5.63],[16.47,3.4],[16.58,8.81],[16.67,10.89],[16.78,3.05],[16.95,7.32],[17.06,5.23],[17.17,10.74],[17.28,7.22],[17.43,7.62],[17.57,10.14],[17.68,11.38],[17.79,9.3],[17.9,9.5],[18.05,8.9],[18.16,11.19],[18.31,9.3],[18.49,7.42],[18.64,10.64],[18.82,10.54],[19.0,7.12],[19.15,8.81],[19.3,10.1],[19.47,8.61],[19.63,7.12],[19.8,9.9],[19.96,8.26],[20.13,6.92],[20.35,9.4],[20.53,6.92],[20.68,6.72],[20.86,9.25],[21.01,6.92],[21.18,6.42],[21.38,9.25],[21.56,7.12],[21.67,6.28],[21.89,9.6],[22.06,6.82],[22.21,6.03],[22.39,8.95],[22.54,7.12],[22.72,5.73],[22.9,8.46],[23.03,7.12],[23.2,5.33],[23.36,7.47],[23.53,9.2],[23.7,8.61],[23.86,9.2],[24.04,7.02],[24.2,7.02],[24.48,9.15],[24.63,8.01],[24.8,7.22],[24.96,8.71],[25.07,7.07],[25.22,6.28],[25.5,9.1],[25.66,7.86],[25.83,8.26],[26.05,9.1],[26.2,7.91],[26.34,8.01],[26.54,9.35],[26.71,8.61],[26.82,7.81],[26.97,8.71],[27.1,9.0],[27.26,7.71],[27.41,7.81],[27.59,9.55],[27.76,8.21],[27.92,7.22],[28.09,9.3],[28.25,8.71],[28.4,7.07],[28.64,9.35],[28.8,8.41],[28.9,7.76],[29.08,9.25],[29.23,7.81],[29.39,7.02],[29.61,9.4],[29.72,8.46],[29.8,7.32],[29.9,6.62],[30.0,6.03]];
const modelKiptopeke = [[0,17.0],[0.3,17.07],[0.53,17.1],[0.74,17.05],[0.88,17.14],[1.1,16.63],[1.31,16.24],[1.49,15.95],[1.62,15.99],[1.84,16.18],[2.06,15.8],[2.28,15.41],[2.5,14.65],[2.72,15.03],[2.93,14.46],[3.15,14.2],[3.37,13.88],[3.59,14.39],[3.81,14.46],[4.03,14.39],[4.25,13.95],[4.47,13.82],[4.69,14.33],[4.82,15.09],[4.99,14.52],[5.21,14.39],[5.43,14.07],[5.65,14.46],[5.91,14.52],[6.13,14.52],[6.44,14.2],[6.66,14.33],[6.88,14.39],[7.1,14.01],[7.31,14.07],[7.53,13.63],[7.75,13.82],[7.97,13.69],[8.19,12.73],[8.41,12.61],[8.63,11.78],[8.85,11.65],[9.07,10.82],[9.29,11.08],[9.5,10.89],[9.72,10.95],[9.94,11.08],[10.16,10.82],[10.38,11.14],[10.6,11.01],[10.82,11.08],[11.04,10.63],[11.26,10.63],[11.48,10.44],[11.7,11.08],[11.91,11.52],[12.13,11.78],[12.35,11.52],[12.57,11.2],[12.79,11.52],[13.01,11.46],[13.23,11.33],[13.45,11.4],[13.67,11.4],[13.89,11.46],[14.02,11.59],[14.24,11.33],[14.45,11.14],[14.67,10.95],[14.85,10.31],[14.98,9.8],[15.2,9.04],[15.42,8.4],[15.55,8.65],[15.73,8.91],[15.99,9.1],[16.29,8.78],[16.51,8.84],[16.73,9.16],[16.95,9.42],[17.17,9.48],[17.39,10.18],[17.61,10.63],[17.83,10.95],[18.05,11.14],[18.26,10.82],[18.48,10.44],[18.7,10.06],[18.92,9.86],[19.14,9.99],[19.36,9.8],[19.58,9.61],[19.67,10.18],[19.89,10.18],[20.1,10.06],[20.32,9.8],[20.54,9.1],[20.76,9.67],[20.98,9.74],[21.2,9.29],[21.42,9.29],[21.64,9.16],[21.86,9.48],[22.08,9.42],[22.3,9.29],[22.56,8.84],[22.78,9.23],[23.0,9.42],[23.22,8.91],[23.43,9.1],[23.65,9.29],[23.87,9.42],[24.09,9.23],[24.31,9.29],[24.53,9.23],[24.75,9.1],[24.97,9.35],[25.19,9.1],[25.41,9.16],[25.62,9.35],[25.84,9.23],[26.06,9.1],[26.37,9.23],[26.59,9.55],[26.85,9.86],[27.07,9.8],[27.29,9.42],[27.55,9.48],[27.81,9.61],[28.03,9.23],[28.25,8.91],[28.47,9.1],[28.69,9.35],[28.87,9.42],[29.08,9.16],[29.3,8.53],[29.48,8.4],[29.7,8.46],[29.87,8.33],[30.0,8.08]];
const modelSewells = [[0,17.04],[0.13,17.2],[0.26,17.09],[0.39,17.46],[0.53,17.04],[0.7,17.15],[0.88,17.04],[1.05,16.76],[1.23,16.53],[1.4,16.25],[1.54,15.97],[1.71,16.25],[1.89,16.37],[2.02,16.03],[2.19,15.58],[2.32,15.36],[2.5,15.19],[2.68,15.25],[2.85,15.13],[2.98,15.02],[3.11,14.8],[3.29,14.18],[3.46,14.24],[3.64,14.52],[3.82,14.46],[4.04,14.13],[4.25,14.01],[4.39,13.51],[4.56,14.13],[4.74,14.52],[4.87,14.69],[5.04,14.41],[5.26,14.29],[5.48,14.13],[5.7,14.57],[5.92,14.69],[6.14,14.35],[6.36,14.13],[6.58,13.79],[6.71,13.57],[6.89,14.01],[7.11,13.73],[7.32,13.62],[7.54,13.34],[7.76,13.51],[7.98,13.23],[8.2,13.12],[8.42,12.67],[8.64,12.39],[8.86,11.77],[9.04,11.72],[9.17,11.33],[9.3,10.71],[9.43,10.88],[9.56,10.65],[9.69,10.93],[9.82,10.49],[9.96,10.21],[10.18,9.98],[10.35,10.32],[10.53,10.43],[10.75,10.37],[10.96,10.32],[11.18,10.54],[11.4,10.65],[11.62,10.65],[11.84,10.88],[12.06,10.54],[12.28,10.49],[12.5,10.82],[12.72,10.99],[12.94,10.93],[13.16,10.88],[13.38,10.82],[13.6,10.99],[13.82,11.05],[14.04,10.82],[14.25,10.43],[14.47,10.37],[14.74,10.32],[14.91,9.65],[15.09,9.09],[15.26,8.97],[15.39,8.3],[15.53,7.69],[15.66,8.36],[15.79,8.19],[15.92,7.8],[16.1,7.41],[16.27,7.35],[16.45,7.69],[16.67,8.08],[16.89,8.25],[17.11,8.41],[17.32,8.58],[17.54,8.75],[17.76,9.14],[17.89,9.48],[18.11,9.37],[18.33,9.09],[18.51,9.37],[18.64,9.09],[18.86,9.53],[19.08,9.09],[19.3,8.75],[19.52,9.03],[19.74,8.86],[19.96,8.97],[20.18,8.69],[20.39,8.3],[20.61,8.64],[20.83,8.75],[21.05,8.53],[21.27,8.25],[21.49,7.91],[21.71,8.41],[21.93,8.41],[22.15,8.13],[22.37,8.36],[22.59,8.25],[22.81,8.36],[23.03,8.08],[23.25,7.8],[23.46,8.08],[23.68,8.08],[23.9,8.13],[24.12,8.19],[24.34,8.13],[24.56,8.25],[24.78,8.3],[25.0,8.13],[25.22,8.08],[25.44,7.97],[25.66,8.25],[25.88,8.41],[26.1,8.25],[26.32,8.13],[26.54,8.13],[26.75,8.47],[26.89,8.81],[27.11,8.75],[27.32,8.69],[27.54,8.58],[27.76,8.81],[27.93,8.64],[28.15,8.53],[28.37,8.36],[28.59,8.58],[28.81,8.64],[29.03,8.53],[29.25,8.36],[29.47,8.02],[29.69,8.08],[29.87,8.02],[30.0,7.91]];

// Model RUN100m_NE: identical to RUN100n_NE up to 31/Dec, plus these knots to 01/Jan
const tailLewes = [[30.2,5.9],[30.4,5.6],[30.75,6.55],[30.9,6.15],[31.0,6.35]];
const tailShipJohn = [[30.18,4.34],[30.33,4.01],[30.48,3.66],[30.66,4.42],[30.83,4.48],[31.0,4.16]];
const tailReedy = [[30.15,3.06],[30.28,3.09],[30.44,2.74],[30.55,2.52],[30.77,3.5],[30.92,3.44],[31.0,3.34]];
const tailDelaware = [[30.15,3.35],[30.33,3.35],[30.5,3.17],[30.64,3.0],[30.77,3.5],[30.88,3.55],[31.0,3.38]];
const tailPhiladelphia = [[30.22,0.64],[30.37,1.33],[30.5,1.19],[30.66,0.5],[30.81,1.33],[31.0,1.59]];
const tailBurlington = [[30.18,-0.35],[30.4,-0.67],[30.66,-0.43],[30.88,-0.6],[31.0,-0.56]];
const tailNewbold = [[30.22,-0.68],[30.37,-0.77],[30.6,-0.9],[30.77,-0.73],[31.0,-0.64]];
const tailOceanCity = [[30.1,5.53],[30.22,4.44],[30.44,3.89],[30.55,7.12],[30.66,9.05],[30.77,7.02],[30.83,8.21],[30.92,7.12],[31.0,4.84]];
const tailKiptopeke = [[30.18,7.7],[30.4,7.38],[30.62,7.76],[30.79,7.95],[31.0,7.91]];
const tailSewells = [[30.18,7.63],[30.35,7.29],[30.48,6.9],[30.66,7.07],[30.83,7.24],[31.0,7.52]];

// y axis limits and tick steps per panel
const yLimits = [[1.98,15.66],[3.23,11.45],[2.0,10.87],[2.6,10.84],[0.06,10.14],[-2.1,9.66],[-2.37,9.69],[0.87,14.69],[4.18,17.75],[6.05,17.94]];
const yTickSteps = [2, 1, 1, 1, 2, 2, 2, 2, 2, 2];

const stations = [
  { obs: obsLewes, model: modelLewes, tail: tailLewes },
  { obs: obsShipJohn, model: modelShipJohn, tail: tailShipJohn },
  { obs: obsReedy, model: modelReedy, tail: tailReedy },
  { obs: obsDelaware, model: modelDelaware, tail: tailDelaware },
  { obs: obsPhiladelphia, model: modelPhiladelphia, tail: tailPhiladelphia },
  { obs: obsBurlington, model: modelBurlington, tail: tailBurlington },
  { obs: obsNewbold, model: modelNewbold, tail: tailNewbold },
  { obs: obsOceanCity, model: modelOceanCity, tail: tailOceanCity },
  { obs: obsKiptopeke, model: modelKiptopeke, tail: tailKiptopeke },
  { obs: obsSewells, model: modelSewells, tail: tailSewells }
];

// Layout (in the 4000 x 5000 figure space of the viewBox)
const colLeft = [162, 2144];
const rowTop = [86, 1032, 1978, 2924, 3870];
const panelW = 1803, panelH = 801;
const fontMain = 34, fontSmall = 27.5;
const t0 = Date.UTC(2016, 11, 1);
const toDate = d => new Date(t0 + d * 864e5);
const minus = v => String(v).replace('-', '\u2212');

const svg = d3.select('#chart');
svg.append('rect').attr('width', 4000).attr('height', 5000).attr('fill', '#fff');

stations.forEach((st, i) => {
  const left = colLeft[i % 2], top = rowTop[Math.floor(i / 2)];
  const [lo, hi] = yLimits[i];
  const step = yTickSteps[i];

  const x = d3.scaleUtc().domain([toDate(0), toDate(31)]).range([0, panelW]);
  const y = d3.scaleLinear().domain([lo, hi]).range([panelH, 0]);
  const yTicks = d3.range(Math.ceil(lo / step) * step, hi + 1e-9, step);
  const xTicks = tickDays.map(toDate);

  const g = svg.append('g').attr('transform', `translate(${left},${top})`);
  g.append('clipPath').attr('id', 'clip' + i)
    .append('rect').attr('width', panelW).attr('height', panelH);

  // grid
  const grid = g.append('g').attr('stroke', '#e6e6e6').attr('stroke-width', 2.7);
  grid.selectAll('.gx').data(xTicks).join('line')
    .attr('x1', d => x(d)).attr('x2', d => x(d)).attr('y1', 0).attr('y2', panelH);
  grid.selectAll('.gy').data(yTicks).join('line')
    .attr('x1', 0).attr('x2', panelW).attr('y1', d => y(d)).attr('y2', d => y(d));

  const plot = g.append('g').attr('clip-path', `url(#clip${i})`);

  // observations
  const obsPts = st.obs.map((v, k) => [k * 0.125, v]);
  if (obsJan1[i] !== null) obsPts.push([31, obsJan1[i]]);
  plot.append('g').attr('fill', '#ff0000')
    .selectAll('circle').data(obsPts).join('circle')
    .attr('cx', d => x(toDate(d[0]))).attr('cy', d => y(d[1])).attr('r', 3.4);

  const line = d3.line().x(d => x(toDate(d[0]))).y(d => y(d[1]));
  plot.append('path').datum(st.model.concat(st.tail))
    .attr('d', line).attr('fill', 'none').attr('stroke', '#008000')
    .attr('stroke-width', 1.7).attr('stroke-dasharray', '6.3,2.7');
  plot.append('path').datum(st.model)
    .attr('d', line).attr('fill', 'none').attr('stroke', '#0000ff')
    .attr('stroke-width', 1.7).attr('stroke-linejoin', 'round');

  // axes
  const xAxis = g.append('g').attr('transform', `translate(0,${panelH})`)
    .call(d3.axisBottom(x).tickValues(xTicks).tickFormat((d, k) => tickLabels[k])
      .tickSize(12).tickPadding(12).tickSizeOuter(0));
  const yAxis = g.append('g')
    .call(d3.axisLeft(y).tickValues(yTicks).tickFormat(minus)
      .tickSize(12).tickPadding(12).tickSizeOuter(0));
  [xAxis, yAxis].forEach(a => {
    a.select('.domain').remove();
    a.attr('font-size', fontMain).attr('font-family', '"DejaVu Sans", sans-serif');
    a.selectAll('line').attr('stroke', '#000').attr('stroke-width', 2.7);
    a.selectAll('text').attr('fill', '#000');
  });

  g.append('rect').attr('width', panelW).attr('height', panelH)
    .attr('fill', 'none').attr('stroke', '#000').attr('stroke-width', 2.7);

  // y label placed left of the widest tick label
  let minX = 0;
  yAxis.selectAll('text').each(function () { minX = Math.min(minX, this.getBBox().x); });
  g.append('text')
    .attr('transform', `translate(${minX - 14 - 8},${panelH / 2}) rotate(-90)`)
    .attr('text-anchor', 'middle').attr('font-size', fontMain)
    .text('Temperature (\u00b0C)');

  // title and sensor note
  g.append('text').attr('x', panelW / 2).attr('y', -24)
    .attr('text-anchor', 'middle').attr('font-size', fontMain)
    .text(stationNames[i]);
  g.append('text').attr('x', 71).attr('y', 79)
    .attr('font-size', fontSmall).attr('font-weight', 'bold')
    .text(`sensor z=${sensorDepths[i]} m (below datum), tz=GMT`);

  // legend on the first panel only
  if (i === 0) {
    const lg = g.append('g').attr('transform', 'translate(1498,14)');
    lg.append('rect').attr('width', 292).attr('height', 136).attr('rx', 8)
      .attr('fill', '#fff').attr('fill-opacity', 0.8)
      .attr('stroke', '#cccccc').attr('stroke-width', 2.7);
    const items = [
      { label: 'Obs', kind: 'dot' },
      { label: 'RUN100m_NE', kind: 'dash' },
      { label: 'RUN100n_NE', kind: 'line' }
    ];
    items.forEach((it, k) => {
      const cy = 23 + k * 42;
      if (it.kind === 'dot') {
        lg.append('circle').attr('cx', 39).attr('cy', cy).attr('r', 3.4).attr('fill', '#ff0000');
      } else {
        lg.append('line').attr('x1', 10).attr('x2', 66).attr('y1', cy).attr('y2', cy)
          .attr('stroke', it.kind === 'dash' ? '#008000' : '#0000ff').attr('stroke-width', 1.7)
          .attr('stroke-dasharray', it.kind === 'dash' ? '6.3,2.7' : null);
      }
      lg.append('text').attr('x', 89).attr('y', cy).attr('dy', '0.35em')
        .attr('font-size', fontSmall).text(it.label);
    });
  }
});

svg.append('text').attr('x', 2000).attr('y', 4942)
  .attr('text-anchor', 'middle').attr('font-size', 40).text('Time');
</script>
</body>
</html>
